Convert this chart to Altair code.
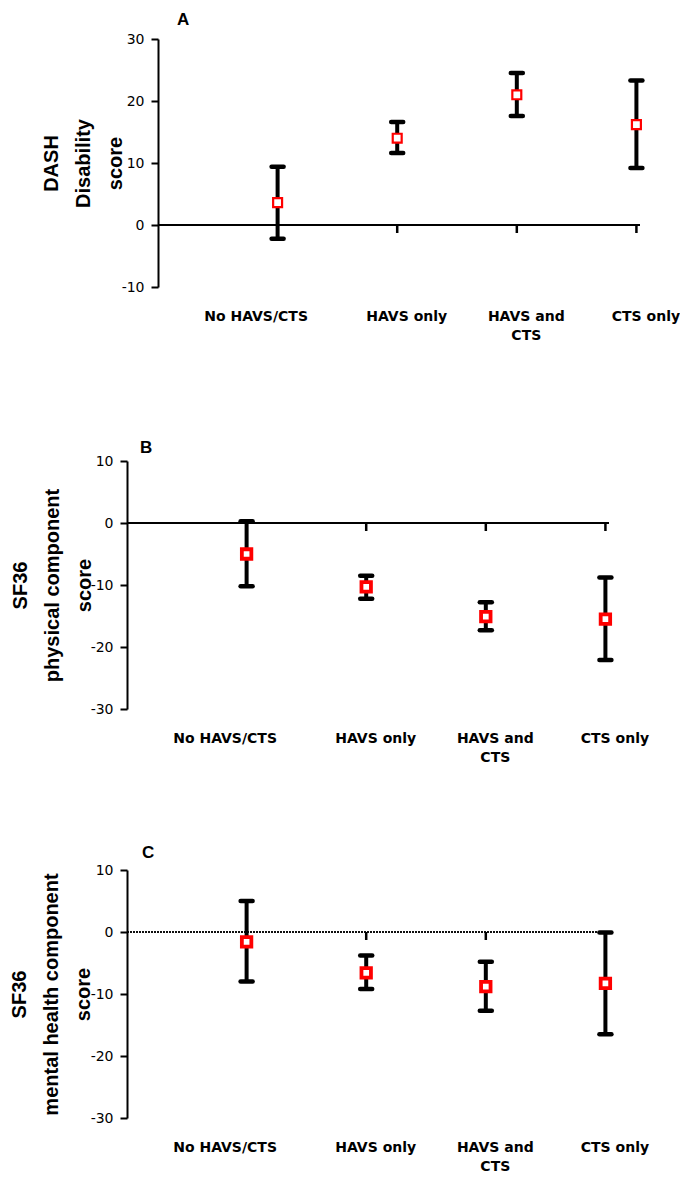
import json
import altair as alt
import pandas as pd

# ---- data ----
categories = ["No HAVS/CTS", "HAVS only", "HAVS and\nCTS", "CTS only"]
positions = [1, 2, 3, 4]

dash_mean = [3.6, 14.0, 21.0, 16.2]
dash_low = [-2.2, 11.6, 17.6, 9.2]
dash_high = [9.4, 16.6, 24.5, 23.3]

pcs_mean = [-5.0, -10.3, -15.1, -15.5]
pcs_low = [-10.2, -12.2, -17.3, -22.1]
pcs_high = [0.3, -8.5, -12.8, -8.8]

mcs_mean = [-1.6, -6.6, -8.8, -8.3]
mcs_low = [-8.0, -9.2, -12.7, -16.5]
mcs_high = [5.0, -3.8, -4.8, -0.1]

ticks_a = [-10, 0, 10, 20, 30]
ticks_bc = [-30, -20, -10, 0, 10]

label_js = "[" + ",".join(
    json.dumps(c.split("\n")) if "\n" in c else json.dumps(c) for c in categories
) + "][datum.value - 1]"

PX_PER_UNIT = 119.6
X_END = 4.03
H = 248


def panel(letter, mean, low, high, ydomain, yticks, ytitle, title_x, zero_width, zero_dash,
          mk_size, mk_stroke, title_dx, title_offset, shift=0):
    df = pd.DataFrame({"pos": positions, "cat": categories,
                       "mean": mean, "low": low, "high": high})
    x0 = -shift / PX_PER_UNIT
    width = round((X_END - x0) * PX_PER_UNIT)
    xscale = alt.Scale(domain=[x0, X_END], nice=False, zero=False)
    yscale = alt.Scale(domain=ydomain, nice=False, zero=False)
    xaxis = alt.Axis(values=positions, labelExpr=label_js, domain=False, ticks=False,
                     labelFont="DejaVu Sans", labelFontWeight="bold", labelFontSize=14,
                     labelColor="black", labelPadding=22, labelLineHeight=19,
                     labelOverlap=False, labelFlush=False, labelBound=False,
                     labelOffset={"condition": {"test": "datum.value == 1", "value": -22},
                                  "value": 9},
                     title=None, grid=False)
    yaxis = alt.Axis(values=yticks, labelExpr="'' + datum.value",
                     domainColor="black", domainWidth=2, offset=-shift,
                     tickColor="black", tickWidth=2, tickSize=7, labelPadding=7,
                     labelFont="DejaVu Sans", labelFontSize=14, labelColor="black",
                     labelFlush=False, grid=False,
                     title=ytitle, titleFont="Liberation Sans", titleFontSize=20,
                     titleFontWeight="bold", titleColor="black", titleLineHeight=32,
                     titleX=title_x)
    X = lambda f: alt.X(f, scale=xscale, axis=xaxis)
    base = alt.Chart(df)
    zero_kw = dict(color="black", strokeWidth=zero_width)
    if zero_dash:
        zero_kw["strokeDash"] = zero_dash
    zero = base.mark_rule(**zero_kw).encode(
        x=alt.X(datum=0, scale=xscale, axis=xaxis),
        x2=alt.X2(datum=X_END),
        y=alt.Y(datum=0, scale=yscale, axis=yaxis))
    zticks = base.mark_rule(color="black", strokeWidth=2.5, y2Offset=8).encode(
        x=X("pos:Q"),
        y=alt.Y(datum=0, scale=yscale, axis=yaxis),
        y2=alt.Y2(datum=0))
    bars = base.mark_rule(color="black", strokeWidth=4).encode(
        x=X("pos:Q"),
        y=alt.Y("low:Q", scale=yscale, axis=yaxis),
        y2="high:Q")
    cap_hi = base.mark_rule(color="black", strokeWidth=4.5, strokeCap="round",
                            xOffset=-6, x2Offset=6).encode(
        x=X("pos:Q"), x2="pos:Q",
        y=alt.Y("high:Q", scale=yscale, axis=yaxis))
    cap_lo = base.mark_rule(color="black", strokeWidth=4.5, strokeCap="round",
                            xOffset=-6, x2Offset=6).encode(
        x=X("pos:Q"), x2="pos:Q",
        y=alt.Y("low:Q", scale=yscale, axis=yaxis))
    means = base.mark_point(shape="square", filled=True, fill="white", stroke="#ff0000",
                            strokeWidth=mk_stroke, size=mk_size, opacity=1).encode(
        x=X("pos:Q"),
        y=alt.Y("mean:Q", scale=yscale, axis=yaxis))
    return alt.layer(zero, zticks, bars, cap_hi, cap_lo, means).properties(
        width=width, height=H,
        title=alt.TitleParams(letter, anchor="start", frame="group", dx=title_dx + shift,
                              offset=title_offset, font="Liberation Sans",
                              fontSize=17, fontWeight="bold", color="black"))


pa = panel("A", dash_mean, dash_low, dash_high, [-10, 30], ticks_a,
           ["DASH", "Disability", "score"], -97, 2, None, 80, 2.2, 19, 3, shift=31)
pb = panel("B", pcs_mean, pcs_low, pcs_high, [-30, 10], ticks_bc,
           ["SF36", "physical component", "score"], -97, 1.5, None, 90, 3.8, 13, -3)
pc = panel("C", mcs_mean, mcs_low, mcs_high, [-30, 10], ticks_bc,
           ["SF36", "mental health component", "score"], -98, 1, [2, 1], 90, 3.8, 15, 1)

chart = alt.vconcat(pa, alt.vconcat(pb, pc, spacing=80), spacing=97).properties(
    padding={"left": 0, "top": 3, "right": 0, "bottom": 0},
    background="white",
).configure_view(stroke=None)

chart.save("out.html", embed_options={"renderer": "svg", "actions": False})
